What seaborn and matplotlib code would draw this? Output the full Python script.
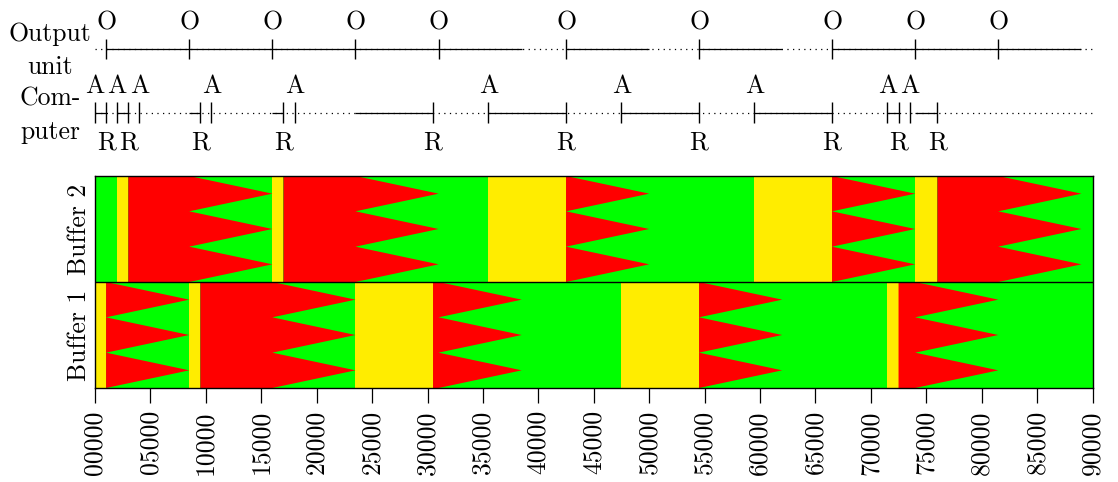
import numpy as np
import matplotlib as mpl
import matplotlib.pyplot as plt
import seaborn as sns

# computer: buffer filled from fill_start to fill_end (R), buffer used
fill_start = [0, 2000, 8500, 16000, 23500, 35500, 47500, 59500, 71500, 74000]
fill_end = [1000, 3000, 9500, 17000, 30500, 42500, 54500, 66500, 72500, 76000]
fill_buffer = [1, 2, 1, 2, 1, 2, 1, 2, 1, 2]

# computer asks for a buffer (A)
acquire = [0, 2000, 4000, 10500, 18000, 35500, 47500, 59500, 71500, 73500]

# output unit empties the k-th filled buffer (O)
out_start = [1000, 8500, 16000, 23500, 31000, 42500, 54500, 66500, 74000, 81500]
out_end = [8500, 16000, 23500, 31000, 38500, 50000, 62000, 74000, 81500, 89000]

xtick_values = [0, 5000, 10000, 15000, 20000, 25000, 30000, 35000, 40000, 45000,
                50000, 55000, 60000, 65000, 70000, 75000, 80000, 85000, 90000]
buffer_labels = ['Buffer 1', 'Buffer 2']
t_max = 90000

green = '#00ff00'
yellow = '#ffed00'
red = '#ff0000'

sns.set_theme(style='ticks', rc={'axes.edgecolor': 'black', 'xtick.color': 'black',
                                 'ytick.color': 'black', 'text.color': 'black'})
plt.rcParams['font.family'] = ['cmr10', 'DejaVu Serif']
plt.rcParams['axes.formatter.use_mathtext'] = True
fs = 18.5

W, H = 1118, 482
fig = plt.figure(figsize=(W / 100, H / 100), dpi=100)
left, right = 95, 1092.5
ax = fig.add_axes([left / W, 1 - 388 / H, (right - left) / W, 212 / H])
ax_top = fig.add_axes([left / W, 1 - 165 / H, (right - left) / W, 165 / H])

# ---- buffers ----
ax.set_facecolor(green)
for s, e, b in zip(fill_start, fill_end, fill_buffer):
    y0 = b - 1
    ax.fill_between([s, e], y0, y0 + 1, color=yellow, lw=0)

# full buffer (red) waiting, then emptied in three wedges
for k in range(len(out_start)):
    y0 = fill_buffer[k] - 1
    f, s, e = fill_end[k], out_start[k], out_end[k]
    xs = [f, s, e, s, e, s, e, s, f]
    ys = [y0, y0, y0 + 1 / 6, y0 + 1 / 3, y0 + 1 / 2, y0 + 2 / 3, y0 + 5 / 6,
          y0 + 1, y0 + 1]
    ax.fill(xs, ys, color=red, lw=0)

ax.axhline(1, color='black', lw=1)
ax.set_xlim(0, t_max)
ax.set_ylim(0, 2)
ax.set_xticks(xtick_values)
ax.set_xticklabels([f'{t:05d}' for t in xtick_values], rotation=90, fontsize=fs)
ax.set_yticks([0.5, 1.5])
ax.set_yticklabels(buffer_labels, rotation=90, va='center', fontsize=fs)
ax.tick_params(axis='x', length=11, width=0.9, pad=5, direction='out')
ax.tick_params(axis='y', length=0, pad=3)
for sp in ax.spines.values():
    sp.set_linewidth(1)
    sp.set_color('black')

# ---- timelines ----
ax_top.set_xlim(0, t_max)
ax_top.set_ylim(165, 0)
ax_top.axis('off')

y_out, y_comp = 49, 112.5
dots = (0, (1, 3.5))

ax_top.hlines(y_out, 0, t_max, color='black', lw=0.9, linestyles=dots, clip_on=False)
ax_top.hlines([y_out] * len(out_start), out_start, out_end, color='black', lw=0.9,
              clip_on=False)
ax_top.vlines(out_start, y_out - 10, y_out + 10, color='black', lw=1, clip_on=False)
for t in out_start:
    ax_top.text(t, 29.5, 'O', ha='center', va='baseline', fontsize=fs)

ax_top.hlines(y_comp, 0, t_max, color='black', lw=0.9, linestyles=dots, clip_on=False)
ax_top.hlines([y_comp] * len(fill_start), fill_start, fill_end, color='black', lw=0.9,
              clip_on=False)
ax_top.vlines(acquire + fill_end, y_comp - 10.5, y_comp + 10.5, color='black', lw=1,
              clip_on=False)
for t in acquire:
    ax_top.text(t, 93, 'A', ha='center', va='baseline', fontsize=fs, clip_on=False)
for t in fill_end:
    ax_top.text(t, 150, 'R', ha='center', va='baseline', fontsize=fs)

for txt, yb in [('Output', 41), ('unit', 74), ('Com-', 106), ('puter', 139)]:
    fig.text(50 / W, 1 - yb / H, txt, ha='center', va='baseline', fontsize=fs)

fig.savefig('out.png', dpi=100)
